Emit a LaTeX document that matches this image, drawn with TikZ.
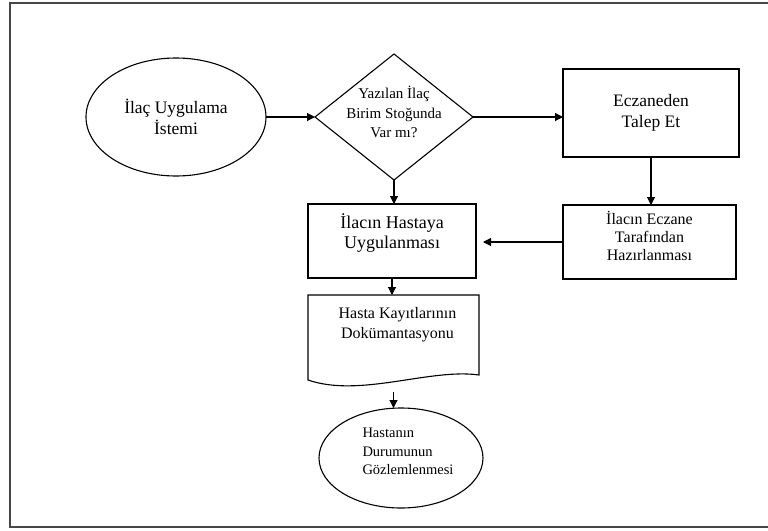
\documentclass[tikz,border=0pt]{standalone}
\usepackage{fontspec}
\setmainfont{Liberation Serif}
\usetikzlibrary{shapes.geometric,arrows.meta}
\begin{document}
\begin{tikzpicture}[x=1pt,y=-1pt,
  every node/.style={inner sep=0pt, outer sep=0pt},
  line/.style={draw=black, line width=1.1pt},
  arr/.style={line, -{Triangle[length=8pt,width=8pt]}},
  oval/.style={ellipse, line},
  box/.style={rectangle, line},
  dia/.style={diamond, line, aspect=1.25},
  big/.style={font=\fontsize{17.5}{20.5}\selectfont, align=center},
  mid/.style={font=\fontsize{16}{19}\selectfont, align=center},
  small/.style={font=\fontsize{15}{19.5}\selectfont, align=center}
]
\useasboundingbox (0,0) rectangle (768,530);
% outer frame
\draw[draw=black!72, line width=1.6pt] (10,3) rectangle (774,527);

% start
\node[oval, big, minimum width=180pt, minimum height=118pt] (start) at (176,117)
  {İlaç Uygulama\\İstemi};

% decision
\node[dia, minimum width=158pt, minimum height=126pt,
  label={[small, yshift=5pt]center:{Yazılan İlaç\\Birim Stoğunda\\Var mı?}}]
  (dec) at (394,117) {};

% request from pharmacy
\node[box, big, minimum width=176pt, minimum height=88pt] (req) at (651,113)
  {Eczaneden\\Talep Et};

% pharmacy preparation
\node[box, minimum width=173pt, minimum height=74pt,
  label={[mid, font=\fontsize{16}{18}\selectfont, yshift=6pt]center:{İlacın Eczane\\Tarafından\\Hazırlanması}}]
  (prep) at (649.5,242) {};

% administration
\node[box, minimum width=168pt, minimum height=74pt,
  label={[big, font=\fontsize{18}{20}\selectfont, yshift=8pt]center:{İlacın Hastaya\\Uygulanması}}]
  (apply) at (392,241) {};

% documentation (document shape)
\node[minimum width=171pt, minimum height=85pt,
  label={[mid, font=\fontsize{16}{20}\selectfont, yshift=12.5pt, xshift=4pt]center:{Hasta Kayıtlarının\\Dokümantasyonu}}]
  (doc) at (393.5,337.5) {};
\draw[line, line join=miter] (doc.south west) -- (doc.north west) -- (doc.north east)
  -- ([yshift=5pt]doc.south east)
  .. controls ([xshift=-49pt,yshift=12pt]doc.south east) and ([xshift=52pt,yshift=-18pt]doc.south west)
  .. (doc.south west) -- cycle;
\coordinate (docout) at ([yshift=-12pt]doc.south);

% observation
\node[oval, minimum width=164pt, minimum height=100pt,
  label={[small, font=\fontsize{14.5}{18.5}\selectfont, align=left, xshift=7pt, yshift=6.5pt]center:{Hastanın\\Durumunun\\Gözlemlenmesi}}]
  (obs) at (401,458) {};

% connectors
\draw[arr] (start.east) -- (dec.west);
\draw[arr] (dec.east) -- (dec.east -| req.west);
\draw[arr] (req.south) -- (req.south |- prep.north);
\draw[arr, shorten >=7pt] (prep.west) -- (prep.west -| apply.east);
\draw[arr] (dec.south) -- (dec.south |- apply.north);
\draw[arr] (apply.south) -- (apply.south |- doc.north);
\draw[arr] (docout) -- (docout |- obs.north);
\end{tikzpicture}
\end{document}
